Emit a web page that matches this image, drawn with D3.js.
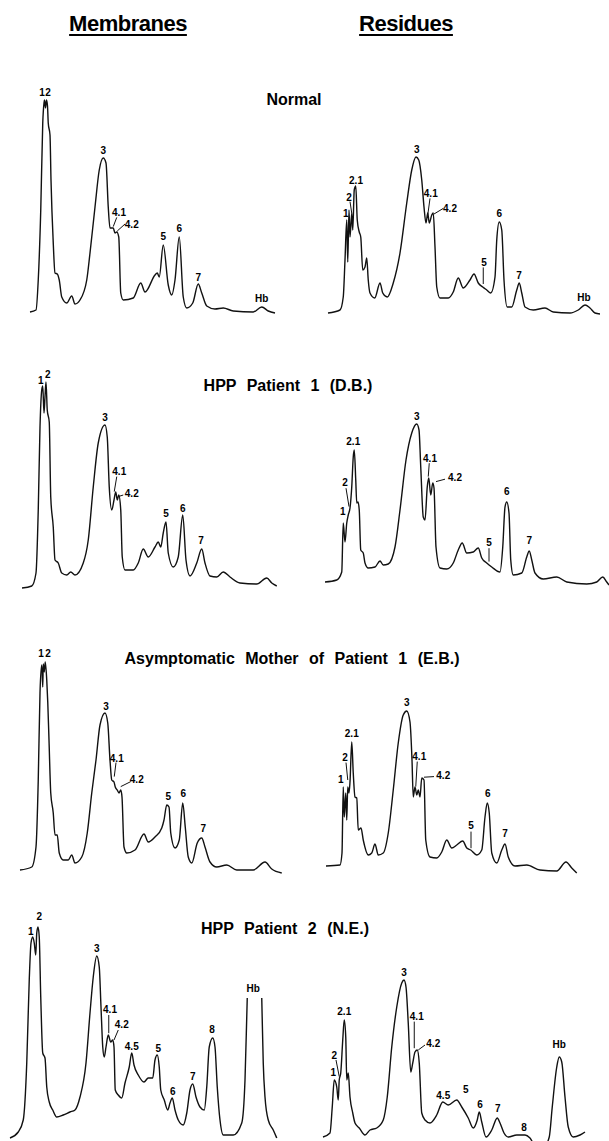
<!DOCTYPE html>
<html>
<head>
<meta charset="utf-8">
<script src="https://cdn.jsdelivr.net/npm/d3@7"></script>
<style>
  body { margin: 0; background: #fff; }
  svg { display: block; }
  text { font-family: "Liberation Sans", Arial, Helvetica, sans-serif; font-weight: bold; fill: #000; }
</style>
</head>
<body>
<svg id="chart" width="609" height="1141"></svg>
<script>

// column headers and sample names
var columnNames = ["Membranes", "Residues"];
var sampleNames = ["Normal", "HPP Patient 1 (D.B.)", "Asymptomatic Mother of Patient 1 (E.B.)", "HPP Patient 2 (N.E.)"];

// densitometry scans: [mobility, absorbance]
var membranesNormal = [[0,0],[2.4,1],[3.3,16],[4.3,51],[5.1,94.5],[5.6,104.5],[5.8,106],[6.2,102],[6.6,106],[7,103],[7.3,94.5],[8,88.5],[8.4,66],[9.3,34.5],[10,19.5],[10.9,19],[11.7,16],[12.7,7.5],[14.7,4.5],[16.7,8],[18,4],[20,6],[22.7,16],[24,29.5],[26,52.5],[27.7,71],[29.3,77],[30.4,74.5],[31.3,52.5],[32,42],[33.3,42],[34,39.5],[34.7,40],[35.5,37.5],[36.3,9.5],[37.3,6],[41.3,7],[44.3,14.5],[46,10],[50,18.5],[50.9,19.5],[51.7,17.5],[53.3,33.5],[55.3,13.5],[56.7,8.5],[58,16],[59.7,37.5],[61.3,7.5],[62.7,2],[65.1,4.5],[67.3,14],[68.7,9.5],[70.7,3],[74,1.5],[77.3,2],[81.3,0.5],[89.3,0],[92.7,2.5],[95.3,0.5],[98,-0.5]];
var residuesNormal = [[0,0],[4.8,1.5],[6.1,8],[6.8,26.5],[7.5,46.5],[7.9,25.5],[8.4,51.5],[8.8,38],[9.5,50],[9.9,41.5],[10.5,61.5],[11.1,63.5],[11.7,46.5],[12.5,40.5],[13.1,38],[13.9,21.5],[14.8,23],[15.5,27.5],[16.1,16.5],[16.8,10],[18.7,7.5],[20.8,15],[21.9,10],[23.7,8],[26.1,15],[28.8,30],[31.5,55],[33.5,71.5],[35.2,78],[36.3,76.5],[37.5,66.5],[38.4,53],[39.2,45],[39.9,50],[40.5,45],[41.5,49],[42.1,50],[42.8,33],[43.5,13],[44.8,7.5],[48.1,7.5],[50.1,10.5],[52.1,17.5],[54.1,12.5],[56.8,16.5],[58.4,19.5],[60.1,15],[61.9,13],[63.5,11.5],[65.1,10],[66.8,18],[67.5,36.5],[68.5,45.5],[69.5,41.5],[70.4,16.5],[71.7,3],[73.5,3],[75.5,11.5],[76.5,15],[77.5,10],[78.8,3],[82.1,1.5],[86.8,2.5],[90.1,0.5],[96.8,0],[100.1,1.5],[102.8,4],[104.8,2.5],[106.8,0],[108.8,-0.5]];
var membranesPatient1 = [[0,0],[3.9,1],[5.6,7.5],[6.5,39],[7.2,80.5],[7.9,99],[8.3,101],[8.8,87.5],[9.2,95.5],[9.6,103],[10.1,89],[10.9,83],[11.5,45.5],[12.5,30.5],[13.2,14],[14.5,12.5],[15.9,7.5],[17.9,6.5],[19.5,8],[21.2,6.5],[24.5,12.5],[26.5,24],[28.5,50.5],[30.5,72.5],[33.2,81.5],[34.1,75.5],[34.9,50.5],[35.9,39],[36.8,44],[37.5,48],[38.1,44],[38.7,46.5],[39.5,39],[40.1,15.5],[41.2,9],[44.5,9],[46.5,12.5],[48.5,19.5],[50.5,15.5],[53.2,20.5],[54.5,23],[55.5,20.5],[56.5,27.5],[57.6,33],[58.5,17.5],[60.5,10.5],[62.5,15.5],[64.3,36.5],[65.6,14],[67.2,6],[69.9,12.5],[71.9,19.5],[73.2,12.5],[75.2,6],[77.9,5.5],[80.5,8],[83.2,5.5],[87.2,2.5],[93.9,2],[97.9,5],[99.9,2.5],[101.9,1]];
var residuesPatient1 = [[0,0.5],[4.7,1.5],[6.7,5.5],[7.3,30],[8,20.5],[8.7,30],[9.3,34],[10,37.5],[10.7,48],[11.3,63],[11.7,66.5],[12.3,51.5],[12.7,40],[13.2,40.5],[13.7,36.5],[14.3,16.5],[15.3,15],[16,10],[17.3,7.5],[20,8],[22,11],[23.3,9],[25.3,9.5],[28,18],[30,36.5],[32.4,61.5],[34.7,75],[36.7,79.5],[37.6,76.5],[38.3,58],[39.3,33],[40,31.5],[40.9,48],[41.5,52.5],[42.3,44],[43.1,50],[43.6,47.5],[44.4,18],[46,7.5],[48.7,7],[51.3,10],[53.3,16.5],[54.9,20],[56.7,15],[59.3,15.5],[61.3,17.5],[62.7,12.5],[64.7,10],[66.7,8],[70,5.5],[71.1,18],[72,38],[72.7,40.5],[73.6,35],[74.3,11.5],[75.3,4],[78.7,5],[80.7,13],[81.7,16],[82.7,11.5],[84,5],[87.3,2],[92.7,3],[96.7,0.5],[104.7,-0.5],[108.7,0.5],[111.1,3],[112.7,0.5],[113.6,-1]];
var membranesMother = [[0,0],[4.7,1.5],[6.4,11.5],[7.3,45],[8,88.5],[8.7,102.5],[9.1,91.5],[9.3,103],[9.7,99],[10.1,104],[10.7,95],[11.1,84],[11.6,65],[12.3,38.5],[13.3,28.5],[14,17.5],[14.9,17.5],[15.7,8.5],[17.3,5],[19.3,5],[20.7,7.5],[22,3.5],[24.7,6.5],[26.9,18.5],[28.7,38.5],[30.4,55],[32,72.5],[34,78.5],[35.1,73.5],[36,55],[36.7,45],[37.6,44],[38.1,41.5],[38.9,40],[39.6,38.5],[40.3,40],[40.8,36.5],[41.6,11.5],[42.7,8.5],[46,10],[49.6,18],[51.3,14],[54,16.5],[56.7,21],[57.6,25],[58.7,32.5],[59.6,31.5],[60.3,18.5],[62,11],[63.7,15],[65.1,33.5],[66.1,21.5],[67.3,6.5],[68.7,3.5],[70.9,13.5],[72.7,16],[74,11.5],[76,4],[78.7,1.5],[82.7,2.5],[86.7,0],[93.3,0],[98,4],[100.7,0.5],[104.7,-1.5]];
var residuesMother = [[0,0],[5.6,0.5],[6.4,6.5],[6.9,39.5],[7.3,24.5],[7.9,36.5],[8.3,23],[8.7,39.5],[9.2,36.5],[9.6,42],[10.3,62],[10.9,46.5],[11.6,34.5],[12.3,34],[12.9,18],[14,19],[14.9,13],[16.9,5.5],[18.3,6.5],[19.6,11],[20.9,5.5],[22.9,6.5],[24.9,16.5],[26.9,38],[28.9,61.5],[30.9,75.5],[32.3,77.5],[33.6,72],[34.4,53],[34.9,34.5],[35.6,39.5],[36.3,35.5],[36.9,38],[37.6,34.5],[38.3,44],[39.2,43],[39.9,13],[41.6,4.5],[44.3,4],[46.3,7],[48.3,13],[50.3,9],[52.3,10.5],[54.7,12.5],[56.3,9],[57.9,8],[60.3,5.5],[62.3,8],[63.6,24.5],[64.5,31.5],[65.3,26.5],[66.3,6.5],[68.3,1.5],[70.3,8],[71.6,11],[72.9,4.5],[75.6,0],[80.3,0.5],[85.6,-2],[92.3,-2.5],[96,2],[98.3,-1],[100.3,-3.5]];
var membranesPatient2 = [[0,0],[3.3,3],[5.3,9],[6.7,37.5],[7.7,79],[8.4,97.5],[9.1,100.5],[9.7,97.5],[10.3,91.5],[10.7,102.5],[11.2,105.5],[11.7,100.5],[12.3,70.5],[13.1,42.5],[14,40],[14.7,25.5],[15.7,18],[17.1,14],[18.7,10.5],[21.3,11.5],[24,13],[26,14],[28,20.5],[30.4,37.5],[32,62.5],[33.3,80.5],[34.7,91],[35.7,85.5],[36.4,65.5],[37.1,45.5],[37.7,40.5],[38.4,45.5],[39.3,51.5],[40.3,48],[41.1,49],[41.6,45.5],[42.1,24],[43.3,21.5],[44.7,20],[46,27.5],[47.7,35.5],[48.7,42.5],[49.6,36.5],[51.3,31.5],[53.6,28],[55.3,30],[57.1,30],[58,39],[58.9,41.5],[59.7,35.5],[60.3,24],[61.7,19],[63.1,14],[64,17.5],[64.9,20],[66,14],[67.3,9],[69.3,6.5],[70.7,12.5],[72,24],[73.1,27],[74.4,20.5],[76,15.5],[77.7,14],[78.7,25.5],[79.7,45.5],[81.1,50],[82,45.5],[82.9,25.5],[84,9],[85.3,1.5],[89.3,1.5],[92.7,7.5],[94,29],[94.9,70],[97.8,150],[100.7,70],[101.3,37.5],[102,20.5],[103.3,9],[105.3,4],[106.7,0]];
var residuesPatient2 = [[0,0],[2.8,2],[3.7,15],[4.5,28.5],[5.5,25],[6.1,18.5],[6.5,28.5],[7.1,32],[7.9,48.5],[8.5,58.5],[9.1,50],[9.5,28.5],[10.1,32],[10.8,20],[11.9,12],[12.8,7],[14.5,4.5],[16.8,1],[18.8,3.5],[21.5,4.5],[24.1,8.5],[25.7,20],[27.5,45],[29.5,65],[31.5,77],[32.4,78.5],[33.2,75],[34.1,57],[35.1,32.5],[35.9,37],[36.8,42.5],[37.7,43.5],[38.5,37],[39.5,12],[40.8,8.5],[42.8,7],[45.5,11],[47.9,17.5],[50.1,16],[53.5,18.5],[55.5,15],[58.1,9.5],[60.1,4.5],[61.7,8.5],[62.5,12.5],[63.5,7.5],[65.2,0],[67.5,3.5],[69.7,9.5],[70.8,7],[72.4,2],[74.1,0],[77.5,1],[80.8,1],[82.8,-0.5],[84.8,-4],[88.8,-4],[90.5,0],[91.7,15],[93.5,35],[94.5,40],[95.5,37.5],[96.8,20],[98.1,5],[100.1,0],[102.8,1],[104.8,2.5]];

// band labels: [text, mobility, absorbance, optional leader x1, y1, x2, y2]
var labelsMembranesNormal = [["1",4.8,108],["2",7.2,108],["3",29.3,79],["4.1",35.6,48,34.7,47.3,33.3,42.7],["4.2",40.7,42,38,44,34.9,40.5],["5",53.3,36],["6",59.7,40],["7",67.3,15.5],["Hb",92.7,5]];
var labelsResiduesNormal = [["1",7.1,48.2],["2",8.4,56.2,8.8,55.7,9.5,49.9],["2.1",11.2,64.5],["3",35.5,79.8],["4.1",41.1,57.8,40.8,57.3,39.9,49],["4.2",48.8,50.7,46.1,52.3,42.4,49.5],["5",62.4,23.7,62.1,22.8,62.1,14.5],["6",68.5,47.8],["7",76.4,16.8],["Hb",102.4,6.2]];
var labelsMembranesPatient1 = [["1",7.5,102],["2",10.3,105],["3",33.2,83.5],["4.1",38.9,56.5,37.9,55.7,36.9,48.2],["4.2",43.9,45.5,40.5,46.5,38.5,45.7],["5",57.6,35.5],["6",64.3,38],["7",71.6,22]];
var labelsResiduesPatient1 = [["1",7.1,34],["2",8,48.5,8.4,47.4,9.6,38.2],["2.1",11.3,69],["3",36.7,81.5],["4.1",42,60.5,41.7,59.9,41.3,53.2],["4.2",52,51,48,51.9,44.4,50.7],["5",65.6,18.5,65.6,17.4,65.6,10.7],["6",72.7,44],["7",81.7,19.5]];
var labelsMembranesMother = [["1",8.4,106.5],["2",11.2,106.5],["3",34.4,80],["4.1",38.7,54,38.4,53.7,37.7,46.7],["4.2",46.7,43.5,44.3,44.2,40.3,41.7],["5",59.3,35],["6",65.3,36.5],["7",73.3,19]];
var labelsResiduesMother = [["1",5.9,41.5],["2",7.6,52.5,8,51.7,8.7,43],["2.1",10.3,64.5],["3",32.3,80],["4.1",37.3,53,36.5,52.2,35.9,39.7],["4.2",46.9,43.5,43.2,44.7,39.2,44.4],["5",58,18.5,58,17.2,58,8.9],["6",64.7,34.5],["7",71.6,14.5]];
var labelsMembranesPatient2 = [["1",8.3,101.5],["2",11.7,109],["3",34.7,93],["4.1",40,62.5,39.5,61.5,39.5,52.4],["4.2",44.7,55,43.3,54,41.6,49],["4.5",48.7,44],["5",59.3,43.2],["6",65.1,21.5],["7",73.1,29],["8",80.8,52.5],["Hb",97.3,73.2]];
var labelsResiduesPatient2 = [["1",4.1,30.5],["2",4.5,39,5.2,38.5,6.5,30.2],["2.1",8.5,61],["3",32.4,80.5],["4.1",37.5,58.5,36.5,57.7,36.5,44.4],["4.2",44.1,45.2,40.8,46,38.1,43.5],["4.5",48.1,19],["5",57.1,22],["6",62.8,14.5],["7",69.9,12.5],["8",80.4,3],["Hb",94.5,44.5]];

var svg = d3.select("#chart");
svg.append("rect").attr("width", 609).attr("height", 1141).attr("fill", "#fff");

// column headers, underlined
var headers = [{x: 128, name: columnNames[0]}, {x: 406, name: columnNames[1]}];
headers.forEach(function(h){
  var t = svg.append("text")
    .attr("x", h.x).attr("y", 31)
    .attr("text-anchor", "middle")
    .attr("font-size", 22)
    .attr("letter-spacing", -0.5)
    .text(h.name);
  var w = t.node().getComputedTextLength();
  svg.append("line")
    .attr("x1", h.x - w / 2).attr("x2", h.x + w / 2)
    .attr("y1", 35).attr("y2", 35)
    .attr("stroke", "#000").attr("stroke-width", 2);
});

// sample titles
var titlePos = [{x: 294, y: 105}, {x: 288, y: 391}, {x: 292, y: 664}, {x: 285, y: 934}];
sampleNames.forEach(function(name, i){
  svg.append("text")
    .attr("x", titlePos[i].x).attr("y", titlePos[i].y)
    .attr("text-anchor", "middle")
    .attr("font-size", 16)
    .attr("word-spacing", 6)
    .text(name);
});

var panels = [
  {trace: membranesNormal,   labels: labelsMembranesNormal,   x0: 30,  yb: 312},
  {trace: residuesNormal,    labels: labelsResiduesNormal,    x0: 328, yb: 313},
  {trace: membranesPatient1, labels: labelsMembranesPatient1, x0: 22,  yb: 588},
  {trace: residuesPatient1,  labels: labelsResiduesPatient1,  x0: 325, yb: 583},
  {trace: membranesMother,   labels: labelsMembranesMother,   x0: 20,  yb: 870},
  {trace: residuesMother,    labels: labelsResiduesMother,    x0: 326, yb: 866},
  {trace: membranesPatient2, labels: labelsMembranesPatient2, x0: 10,  yb: 1138, clipTop: 70, clipFrom: 93},
  {trace: residuesPatient2,  labels: labelsResiduesPatient2,  x0: 323, yb: 1137}
];

panels.forEach(function(p, i){
  var x = d3.scaleLinear().domain([0, 100]).range([p.x0, p.x0 + 250]);
  var y = d3.scaleLinear().domain([0, 100]).range([p.yb, p.yb - 200]);
  var g = svg.append("g").attr("class", "panel-" + i);

  var line = d3.line()
    .x(function(d){ return x(d[0]); })
    .y(function(d){ return y(d[1]); })
    .curve(d3.curveMonotoneX);

  var traceGroup = g.append("g");
  if (p.clipTop != null) {
    // Hb band runs off scale: cut its top only
    var clip = svg.append("clipPath").attr("id", "clip-" + i);
    clip.append("rect")
      .attr("x", x(-10)).attr("y", y(130))
      .attr("width", x(p.clipFrom) - x(-10)).attr("height", y(-20) - y(130));
    clip.append("rect")
      .attr("x", x(p.clipFrom)).attr("y", y(p.clipTop))
      .attr("width", x(120) - x(p.clipFrom)).attr("height", y(-20) - y(p.clipTop));
    traceGroup.attr("clip-path", "url(#clip-" + i + ")");
  }
  traceGroup.append("path")
    .datum(p.trace)
    .attr("d", line)
    .attr("fill", "none")
    .attr("stroke", "#111")
    .attr("stroke-width", 1.4)
    .attr("stroke-linejoin", "round");

  // leader lines
  g.selectAll("line.leader")
    .data(p.labels.filter(function(d){ return d.length > 3; }))
    .enter().append("line")
    .attr("class", "leader")
    .attr("x1", function(d){ return x(d[3]); })
    .attr("y1", function(d){ return y(d[4]); })
    .attr("x2", function(d){ return x(d[5]); })
    .attr("y2", function(d){ return y(d[6]); })
    .attr("stroke", "#111")
    .attr("stroke-width", 1);

  g.selectAll("text.band")
    .data(p.labels)
    .enter().append("text")
    .attr("class", "band")
    .attr("x", function(d){ return x(d[1]); })
    .attr("y", function(d){ return y(d[2]); })
    .attr("text-anchor", "middle")
    .attr("font-size", 10)
    .text(function(d){ return d[0]; });
});

</script>
</body>
</html>
